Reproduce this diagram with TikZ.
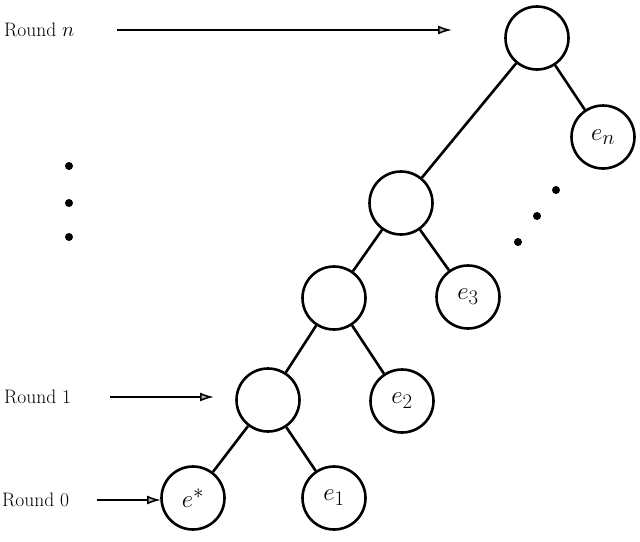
\documentclass[tikz,border=0pt]{standalone}
\usetikzlibrary{arrows.meta}
\begin{document}
\begin{tikzpicture}[x=1pt,y=-1pt,
  nd/.style={circle,draw,line width=2.6pt,minimum size=63pt,inner sep=0pt,font=\fontsize{29}{33}\selectfont},
  ed/.style={line width=2.6pt},
  lab/.style={anchor=west,inner sep=0pt,font=\fontsize{19.5}{23}\selectfont},
  ar/.style={line width=1.5pt,-{Latex[length=14pt,width=9pt,open,fill=gray!60]}},
  dot/.style={circle,fill,inner sep=0pt,minimum size=8pt}]
\useasboundingbox (0,0) rectangle (640,541);
\node[nd] (t) at (537,38) {};
\node[nd] (en) at (603,137) {$e_n$};
\node[nd] (a) at (401,203) {};
\node[nd] (e3) at (468,297) {$e_3$};
\node[nd] (b) at (334,298) {};
\node[nd] (c) at (268,400) {};
\node[nd] (e2) at (402,401) {$e_2$};
\node[nd] (es) at (193,498) {$e^*$};
\node[nd] (e1) at (334,498) {$e_1$};
\draw[ed] (t)--(en) (t)--(a) (a)--(e3) (a)--(b) (b)--(c) (b)--(e2) (c)--(es) (c)--(e1);
\node[lab] (rn) at (4,30) {Round $n$};
\node[lab] (r1) at (4,397) {Round 1};
\node[lab] (r0) at (2,500) {Round 0};
\coordinate (sn) at (117,30);
\coordinate (s1) at (110,397);
\coordinate (s0) at (97,500);
\coordinate (pn) at (452,30);
\coordinate (p1) at (214,397);
\coordinate (p0) at (161,500);
\draw[ar] (sn)--(pn);
\draw[ar] (s1)--(p1);
\draw[ar] (s0)--(p0);
\foreach \i/\p in {1/{(69,166)},2/{(69,203)},3/{(69,237)},4/{(518,242)},5/{(537,216)},6/{(556,190)}}
  \node[dot] (d\i) at \p {};
\end{tikzpicture}
\end{document}
